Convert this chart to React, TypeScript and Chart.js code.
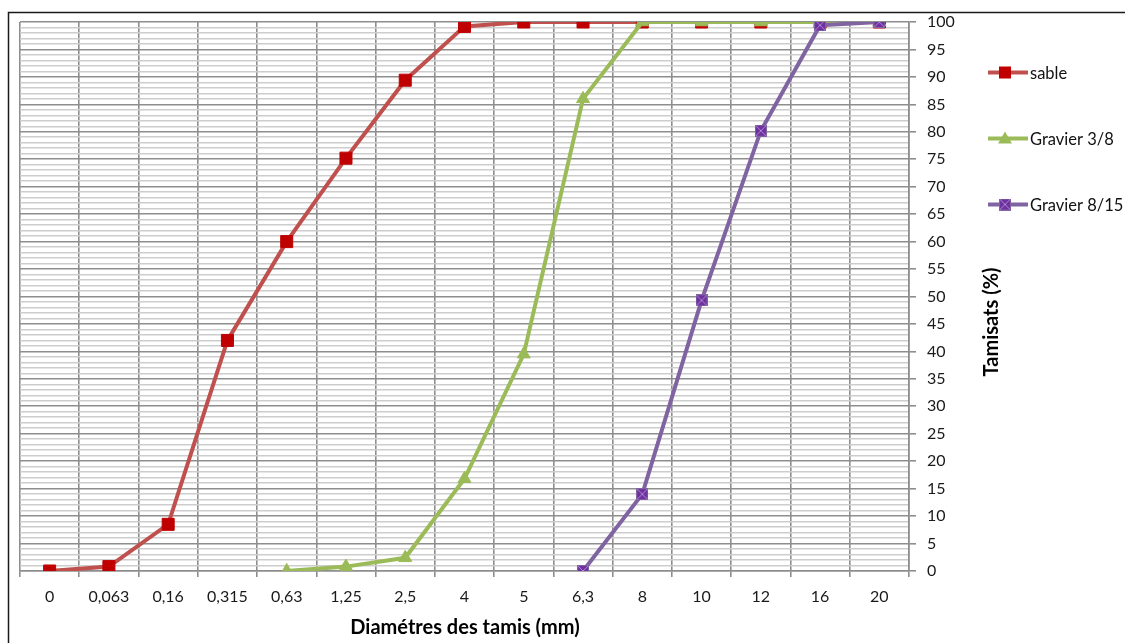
import React, { useEffect, useRef } from "react";
import { Chart, registerables } from "chart.js";

Chart.register(...registerables);

// Sieve sizes (mm) and cumulative passing percentages
const sieves = ["0", "0,063", "0,16", "0,315", "0,63", "1,25", "2,5", "4", "5", "6,3", "8", "10", "12", "16", "20"];
const sable = [0, 0.8, 8.5, 42, 60, 75.2, 89.4, 99.2, 100, 100, 100, 100, 100, 100, 100];
const gravier38 = [null, null, null, null, 0, 0.8, 2.4, 16.8, 39.5, 86, 100, 100, 100, 100, 100];
const gravier815 = [null, null, null, null, null, null, null, null, null, 0, 14, 49.3, 80.2, 99.4, 100];
const seriesNames = ["sable", "Gravier 3/8", "Gravier 8/15"];

const FONT = "Lato, 'Open Sans', sans-serif";
const RED_LINE = "#C0504D";
const RED_FILL = "#C00000";
const GREEN = "#9BBB59";
const PURPLE_LINE = "#8064A2";
const PURPLE_FILL = "#7030A0";
const MAJOR_GRID = "#8e8e8e";
const MINOR_GRID = "#cdcdcd";

function makeCrossSquare(size: number): HTMLCanvasElement {
  const c = document.createElement("canvas");
  c.width = size;
  c.height = size;
  const g = c.getContext("2d")!;
  g.fillStyle = PURPLE_FILL;
  g.fillRect(0, 0, size, size);
  g.strokeStyle = "#A98BD0";
  g.lineWidth = 1;
  g.beginPath();
  g.moveTo(1, 1);
  g.lineTo(size - 1, size - 1);
  g.moveTo(size - 1, 1);
  g.lineTo(1, size - 1);
  g.stroke();
  g.strokeStyle = PURPLE_LINE;
  g.strokeRect(0.5, 0.5, size - 1, size - 1);
  return c;
}

export default function App() {
  const ref = useRef<HTMLCanvasElement | null>(null);

  useEffect(() => {
    const canvas = ref.current;
    if (!canvas) return;
    const crossSquare = makeCrossSquare(12);

    const decorations = {
      id: "decorations",
      afterDraw(chart: any) {
        const ctx = chart.ctx as CanvasRenderingContext2D;
        ctx.save();
        // outer frame
        ctx.strokeStyle = "#1a1a1a";
        ctx.lineWidth = 1.5;
        ctx.strokeRect(8.5, 12.5, 1300, 800);

        // axis titles
        ctx.fillStyle = "#000";
        ctx.font = `bold 20px ${FONT}`;
        ctx.textAlign = "center";
        ctx.textBaseline = "middle";
        ctx.fillText("Diamétres des tamis (mm)", 465, 628);
        ctx.save();
        ctx.translate(992, 322);
        ctx.rotate(-Math.PI / 2);
        ctx.fillText("Tamisats (%)", 0, 0);
        ctx.restore();

        // legend
        const items = [
          { y: 72.5, line: RED_LINE, kind: "rect" },
          { y: 138.5, line: GREEN, kind: "tri" },
          { y: 204.5, line: PURPLE_LINE, kind: "cross" },
        ];
        ctx.font = `16.5px ${FONT}`;
        ctx.textAlign = "left";
        items.forEach((it, i) => {
          ctx.strokeStyle = it.line;
          ctx.lineWidth = 4;
          ctx.beginPath();
          ctx.moveTo(988, it.y);
          ctx.lineTo(1028, it.y);
          ctx.stroke();
          const cx = 1005;
          if (it.kind === "rect") {
            ctx.fillStyle = RED_FILL;
            ctx.fillRect(cx - 6, it.y - 6, 12, 12);
          } else if (it.kind === "tri") {
            ctx.fillStyle = GREEN;
            ctx.beginPath();
            ctx.moveTo(cx, it.y - 7);
            ctx.lineTo(cx + 7, it.y + 5);
            ctx.lineTo(cx - 7, it.y + 5);
            ctx.closePath();
            ctx.fill();
          } else {
            ctx.drawImage(crossSquare, cx - 6, it.y - 6);
          }
          ctx.fillStyle = "#111";
          ctx.fillText(seriesNames[i], 1030, it.y + 1);
        });
        ctx.restore();
      },
    };

    const chart = new Chart(canvas, {
      type: "line",
      data: {
        labels: sieves,
        datasets: [
          {
            label: seriesNames[0],
            data: sable,
            borderColor: RED_LINE,
            backgroundColor: RED_FILL,
            pointBackgroundColor: RED_FILL,
            pointBorderColor: RED_FILL,
            pointStyle: "rect",
            pointRadius: 8.5,
            pointBorderWidth: 1,
            borderWidth: 4,
            order: 3,
          },
          {
            label: seriesNames[1],
            data: gravier38,
            borderColor: GREEN,
            backgroundColor: GREEN,
            pointBackgroundColor: GREEN,
            pointBorderColor: GREEN,
            pointStyle: "triangle",
            pointRadius: 7.5,
            pointBorderWidth: 1,
            borderWidth: 4,
            order: 2,
          },
          {
            label: seriesNames[2],
            data: gravier815,
            borderColor: PURPLE_LINE,
            backgroundColor: PURPLE_FILL,
            pointStyle: crossSquare,
            pointRadius: 6,
            borderWidth: 4,
            order: 1,
          },
        ],
      },
      options: {
        responsive: false,
        animation: false,
        events: [],
        layout: { padding: { left: 20, top: 22, right: 0, bottom: 0 } },
        plugins: { legend: { display: false }, tooltip: { enabled: false } },
        scales: {
          x: {
            type: "category",
            offset: true,
            grid: {
              offset: true,
              color: MAJOR_GRID,
              tickColor: MAJOR_GRID,
              tickLength: 6,
              lineWidth: 1.6,
            },
            border: { color: MAJOR_GRID, width: 1.6 },
            ticks: {
              color: "#1a1a1a",
              font: { family: FONT, size: 16 },
              padding: 10,
              maxRotation: 0,
              autoSkip: false,
            },
            afterFit(scale: any) {
              scale.height = 72;
            },
          },
          y: {
            position: "right",
            min: 0,
            max: 100,
            grid: {
              color: (c: any) => (c.tick && c.tick.value % 5 === 0 ? MAJOR_GRID : MINOR_GRID),
              tickColor: (c: any) => (c.tick && c.tick.value % 5 === 0 ? MAJOR_GRID : "rgba(0,0,0,0)"),
              tickLength: 7,
              lineWidth: 1.6,
            },
            border: { color: MAJOR_GRID, width: 1.6 },
            ticks: {
              stepSize: 1,
              autoSkip: false,
              color: "#1a1a1a",
              font: { family: FONT, size: 16 },
              padding: 11,
              callback: (v: any) => (Number(v) % 5 === 0 ? String(v) : ""),
            },
            afterFit(scale: any) {
              scale.width = 216;
            },
          },
        },
      },
      plugins: [decorations],
    });

    return () => chart.destroy();
  }, []);

  return (
    <div style={{ position: "absolute", left: 0, top: 0, width: 1125, height: 643, background: "#fff" }}>
      <canvas ref={ref} width={1125} height={643} style={{ display: "block" }} />
    </div>
  );
}
